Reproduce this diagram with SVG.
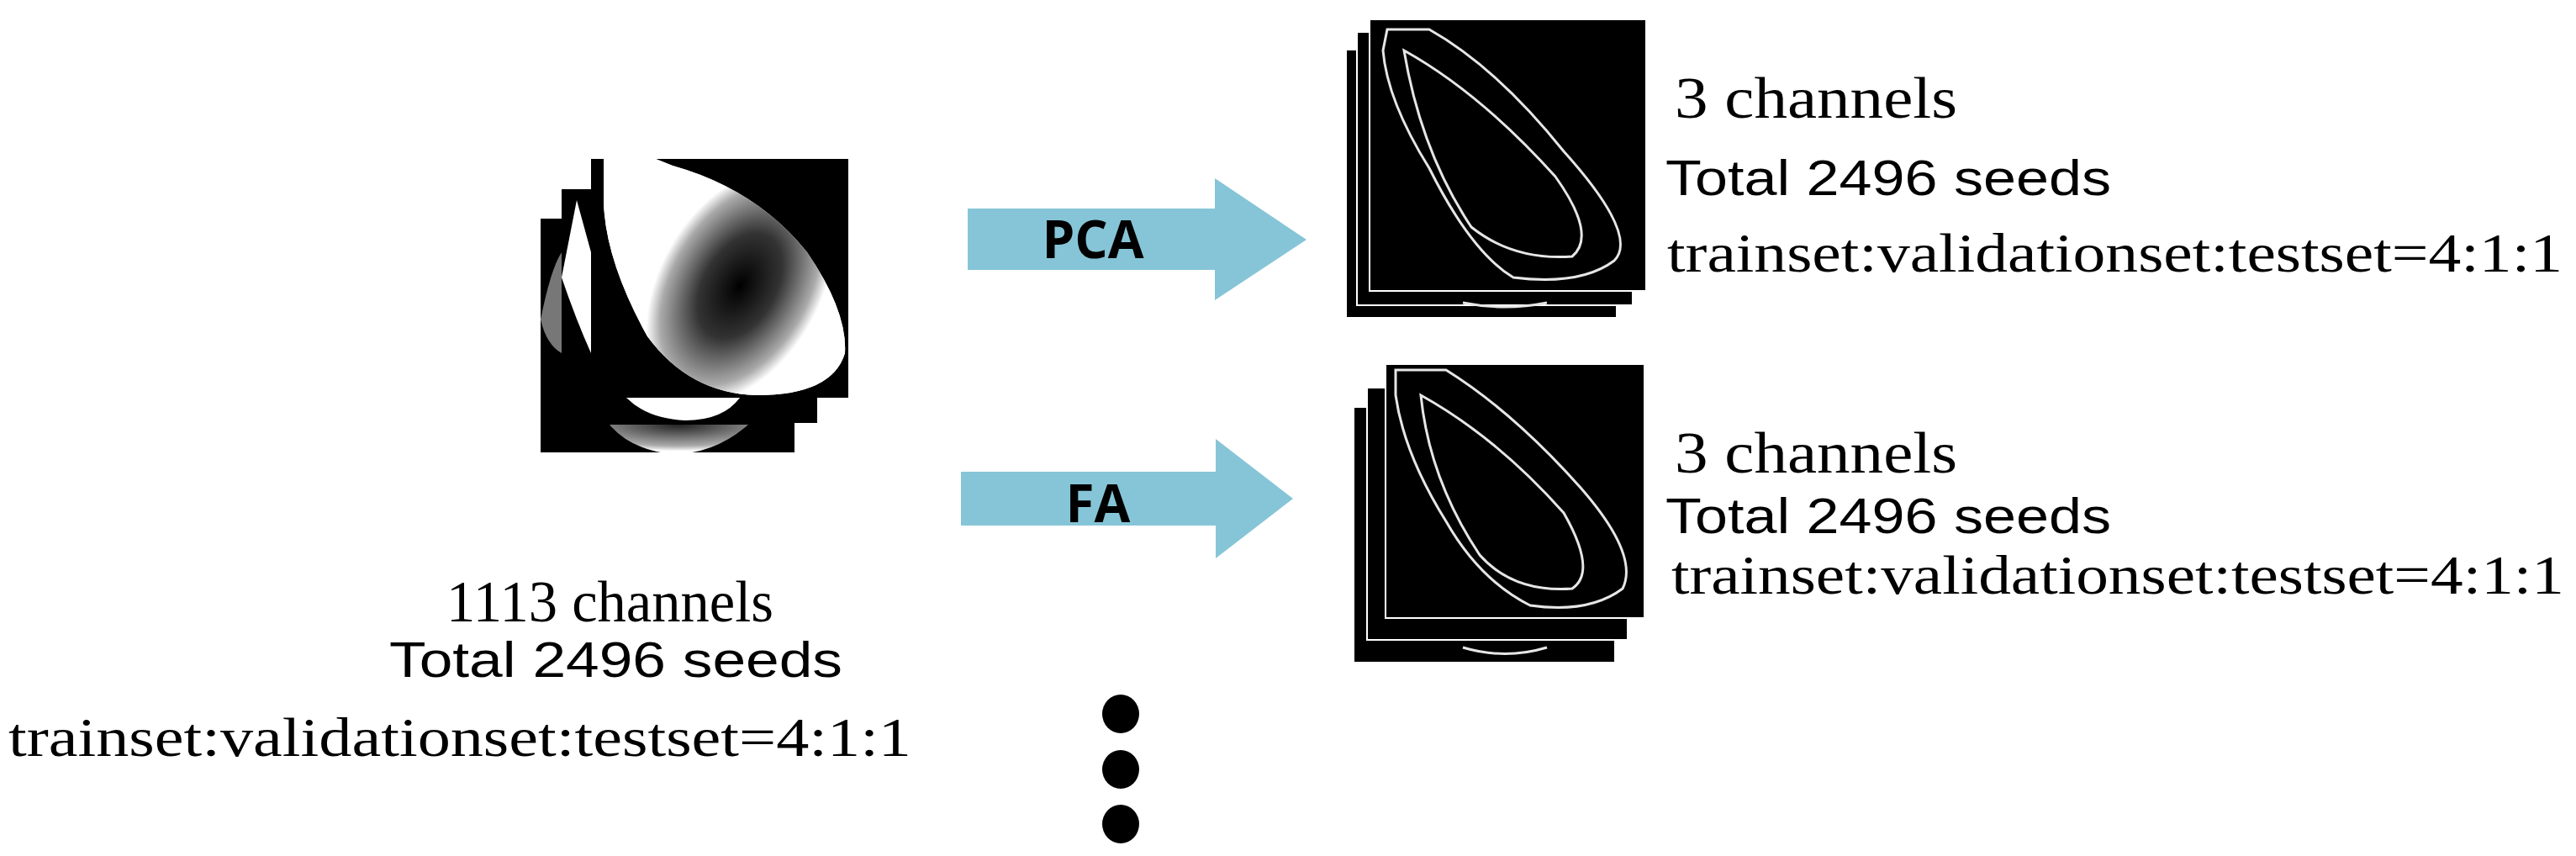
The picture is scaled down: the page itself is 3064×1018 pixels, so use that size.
<svg xmlns="http://www.w3.org/2000/svg" width="3064" height="1018" viewBox="0 0 3064 1018">
<style>
.serif{font-family:"Liberation Serif",serif;fill:#000}
.sans{font-family:"Liberation Sans",sans-serif;fill:#000}
.lbl{font-family:"Open Sans","Liberation Sans",sans-serif;font-weight:bold;fill:#000}
.arrow{fill:#86C5D7}
.edge{fill:none;stroke:#e6e6e6;stroke-width:3}
</style>
<defs>
<radialGradient id="g" gradientUnits="userSpaceOnUse" cx="0" cy="0" r="1" gradientTransform="translate(880 340) rotate(-60) scale(150 95)">
<stop offset="0" stop-color="#000"/><stop offset="0.45" stop-color="#333"/><stop offset="0.85" stop-color="#aaa"/><stop offset="1" stop-color="#fff"/>
</radialGradient>
<radialGradient id="g2" cx="0.5" cy="0" r="0.9">
<stop offset="0" stop-color="#222"/><stop offset="0.8" stop-color="#aaa"/><stop offset="1" stop-color="#fff"/>
</radialGradient>
</defs>
<rect width="3064" height="1018" fill="#fff"/>
<g id="input-stack">
<rect x="643" y="260" width="302" height="278" fill="#000"/>
<path d="M725 505 L890 505 Q850 540 800 540 Q750 535 725 505Z" fill="url(#g2)"/>
<path d="M643 380 Q655 320 668 300 L668 420 Q650 410 643 380Z" fill="#777"/>
<rect x="668" y="225" width="304" height="278" fill="#000"/>
<path d="M745 473 L880 473 Q860 500 815 500 Q770 498 745 473Z" fill="#fff"/>
<path d="M668 330 L686 238 L703 300 L703 420 Q685 380 668 330Z" fill="#fff"/>
<rect x="703" y="189" width="306" height="284" fill="#000"/>
<path d="M718 189 L780 189 L800 197 Q900 225 960 300 Q1008 370 1005 420 Q990 470 900 470 Q820 468 770 400 Q720 310 718 240Z" fill="#fff"/>
<path d="M718 189 L780 189 L800 197 Q900 225 960 300 Q1008 370 1005 420 Q990 470 900 470 Q820 468 770 400 Q720 310 718 240Z" fill="url(#g)"/>
</g>
<g id="pca-stack">
<rect x="1601" y="59" width="322" height="319" fill="#000" stroke="#fff" stroke-width="2"/>
<rect x="1614" y="38" width="328" height="325" fill="#000" stroke="#fff" stroke-width="2"/>
<rect x="1629" y="23" width="329" height="323" fill="#000" stroke="#fff" stroke-width="2"/>
<path class="edge" d="M1650 35 L1700 35 Q1780 80 1860 180 Q1950 280 1920 310 Q1880 340 1800 330 Q1750 300 1700 200 Q1650 120 1645 60Z"/>
<path class="edge" stroke-width="2" d="M1670 60 Q1760 110 1850 210 Q1900 280 1870 305 Q1800 310 1750 270 Q1690 180 1670 60Z"/>
<path class="edge" stroke-width="2" d="M1740 360 Q1790 370 1840 360"/>
</g>
<g id="fa-stack">
<rect x="1610" y="484" width="311" height="304" fill="#000" stroke="#fff" stroke-width="2"/>
<rect x="1626" y="461" width="310" height="300" fill="#000" stroke="#fff" stroke-width="2"/>
<rect x="1648" y="433" width="308" height="302" fill="#000" stroke="#fff" stroke-width="2"/>
<path class="edge" d="M1660 440 L1720 440 Q1800 490 1880 580 Q1950 660 1930 700 Q1890 730 1820 720 Q1760 690 1720 620 Q1670 540 1660 470Z"/>
<path class="edge" stroke-width="2" d="M1690 470 Q1780 520 1860 610 Q1900 680 1870 700 Q1800 705 1760 660 Q1700 570 1690 470Z"/>
<path class="edge" stroke-width="2" d="M1740 770 Q1790 785 1840 770"/>
</g>
<g id="pca-arrow">
<path class="arrow" d="M1151 248 H1445 V212 L1554 285 L1445 357 V321 H1151Z"/>
<text class="lbl" x="1300" y="307" font-size="62" text-anchor="middle">PCA</text>
</g>
<g id="fa-arrow">
<path class="arrow" d="M1143 561 H1446 V522 L1538 593 L1446 664 V625 H1143Z"/>
<text class="lbl" x="1306" y="621" font-size="62" text-anchor="middle">FA</text>
</g>
<g id="input-text">
<text class="serif" x="531" y="739" font-size="70" textLength="389" lengthAdjust="spacingAndGlyphs">1113 channels</text>
<text class="sans" x="463" y="805" font-size="60" textLength="539" lengthAdjust="spacingAndGlyphs">Total 2496 seeds</text>
<text class="serif" x="10" y="899" font-size="66" textLength="1074" lengthAdjust="spacingAndGlyphs">trainset:validationset:testset=4:1:1</text>
</g>
<g id="pca-text">
<text class="serif" x="1992" y="140" font-size="70" textLength="336" lengthAdjust="spacingAndGlyphs">3 channels</text>
<text class="sans" x="1981" y="232" font-size="60" textLength="530" lengthAdjust="spacingAndGlyphs">Total 2496 seeds</text>
<text class="serif" x="1983" y="323" font-size="66" textLength="1065" lengthAdjust="spacingAndGlyphs">trainset:validationset:testset=4:1:1</text>
</g>
<g id="fa-text">
<text class="serif" x="1992" y="562" font-size="70" textLength="336" lengthAdjust="spacingAndGlyphs">3 channels</text>
<text class="sans" x="1981" y="634" font-size="60" textLength="530" lengthAdjust="spacingAndGlyphs">Total 2496 seeds</text>
<text class="serif" x="1988" y="706" font-size="66" textLength="1062" lengthAdjust="spacingAndGlyphs">trainset:validationset:testset=4:1:1</text>
</g>
<g id="ellipsis">
<ellipse cx="1333" cy="849" rx="22" ry="23"/>
<ellipse cx="1333" cy="915" rx="22" ry="23"/>
<ellipse cx="1333" cy="980" rx="22" ry="23"/>
</g>
</svg>
